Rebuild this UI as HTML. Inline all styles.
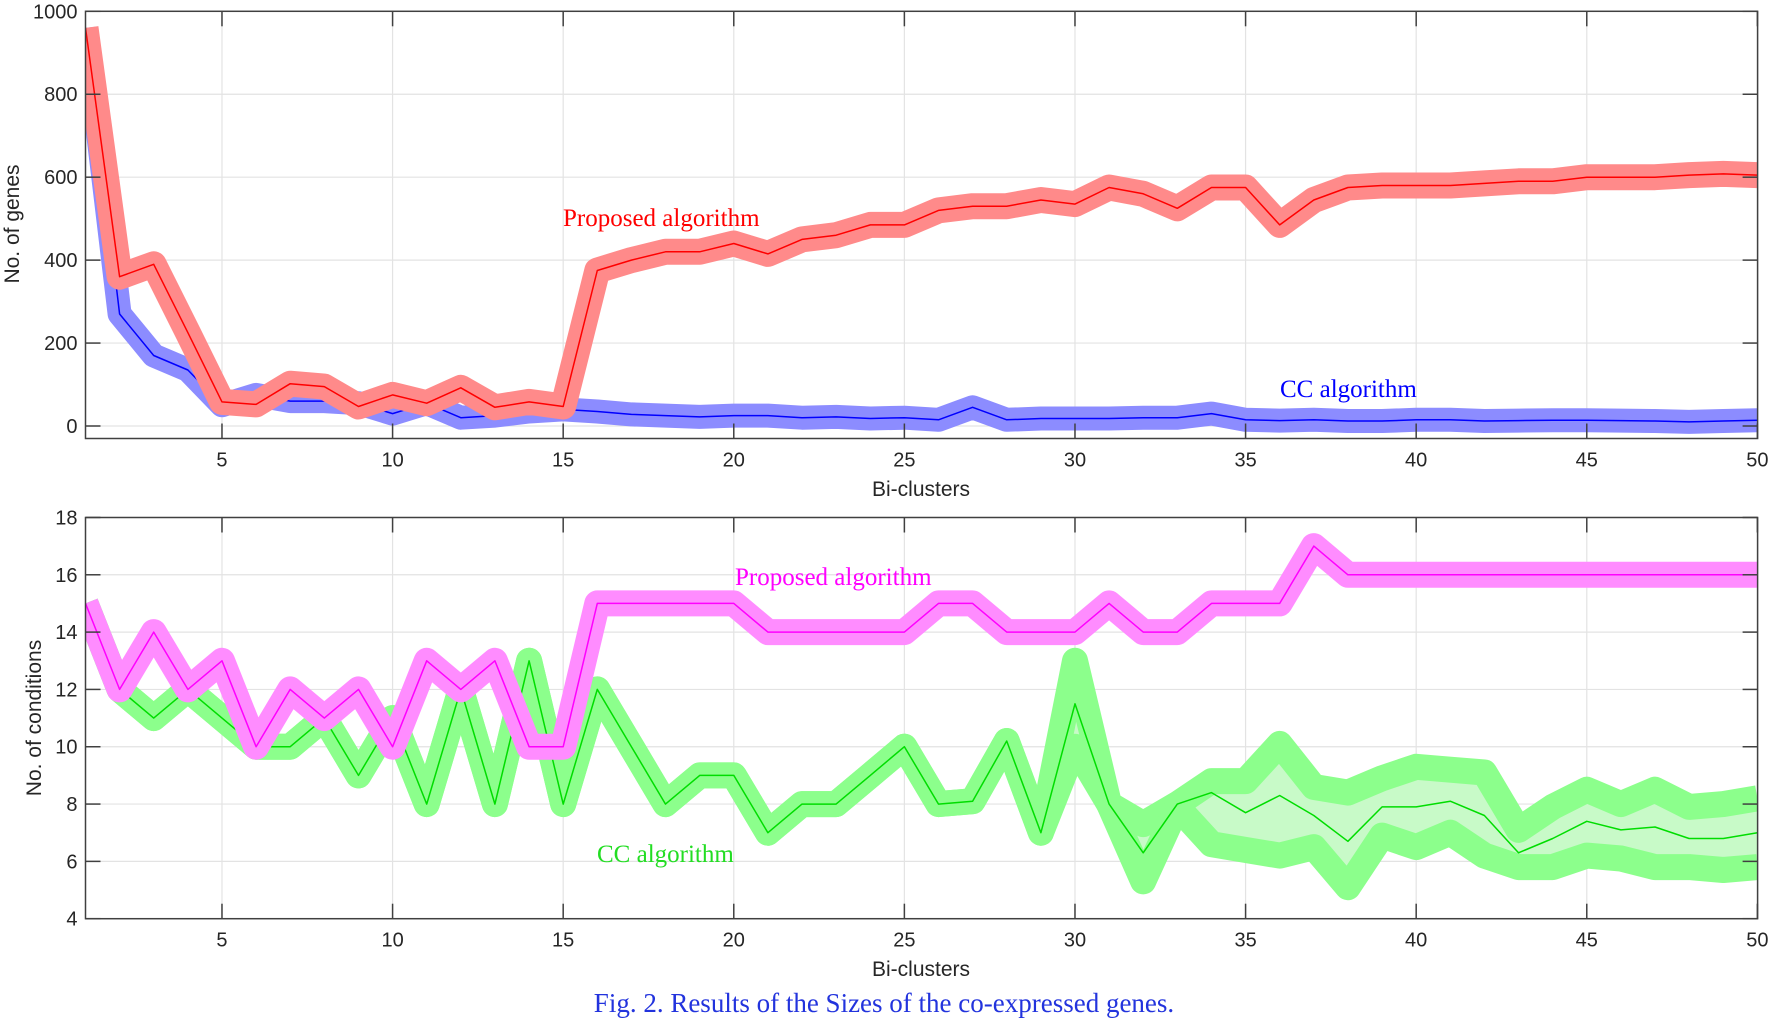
<!DOCTYPE html>
<html><head><meta charset="utf-8"><style>
body{margin:0;background:#fff;}
svg text{font-family:"Liberation Sans",sans-serif;}
.s{font-family:"Liberation Serif",serif !important;}
</style></head><body>
<svg id="s" width="1772" height="1021" xmlns="http://www.w3.org/2000/svg">
<defs>
<clipPath id="c1"><rect x="85.5" y="11.3" width="1672" height="427.2"/></clipPath>
<clipPath id="c2"><rect x="85.5" y="517.5" width="1672" height="401.2"/></clipPath>
</defs>
<g id="g"></g>
<text class="s" x="563" y="226" font-size="25" fill="#ff0000">Proposed algorithm</text>
<text class="s" x="1280" y="397" font-size="25" fill="#0000ff">CC algorithm</text>
<text class="s" x="735" y="585" font-size="25" fill="#ff00ff">Proposed algorithm</text>
<text class="s" x="597" y="862" font-size="25" fill="#22dd22">CC algorithm</text>
<text class="s" x="884" y="1012" font-size="27" fill="#2233dd" text-anchor="middle">Fig. 2. Results of the Sizes of the co-expressed genes.</text>
<text x="921" y="496" font-size="21" fill="#262626" text-anchor="middle">Bi-clusters</text>
<text x="921" y="976" font-size="21" fill="#262626" text-anchor="middle">Bi-clusters</text>
<text transform="translate(19,224) rotate(-90)" font-size="21" fill="#262626" text-anchor="middle">No. of genes</text>
<text transform="translate(41,718) rotate(-90)" font-size="21" fill="#262626" text-anchor="middle">No. of conditions</text>
</svg>
<script>
const NS="http://www.w3.org/2000/svg",g=document.getElementById('g');
function el(t,a,p){const e=document.createElementNS(NS,t);for(const k in a)e.setAttribute(k,a[k]);(p||g).appendChild(e);return e;}
function txt(x,y,s,anc){const e=el('text',{x:x,y:y,'font-size':20,fill:'#262626','text-anchor':anc||'middle'});e.textContent=s;}
const X=v=>85.5+(v-1)*34.12;
const Yt=v=>426-v*0.4147;
const Yb=v=>918.7-(v-4)*28.66;
const L=85.5,R=1757.6;
function axes(top,bot,yvals,Y){
 for(let v=5;v<=50;v+=5)el('line',{x1:X(v),x2:X(v),y1:top,y2:bot,stroke:'#e3e3e3','stroke-width':1.2});
 yvals.forEach(v=>el('line',{x1:L,x2:R,y1:Y(v),y2:Y(v),stroke:'#e3e3e3','stroke-width':1.2}));
}
function frame(top,bot,yvals,Y){
 el('rect',{x:L,y:top,width:R-L,height:bot-top,fill:'none',stroke:'#404040','stroke-width':1.5});
 for(let v=5;v<=50;v+=5){el('line',{x1:X(v),x2:X(v),y1:top,y2:top+15,stroke:'#404040','stroke-width':1.5});el('line',{x1:X(v),x2:X(v),y1:bot,y2:bot-15,stroke:'#404040','stroke-width':1.5});txt(X(v),bot+28,String(v));}
 yvals.forEach(v=>{el('line',{x1:L,x2:L+15,y1:Y(v),y2:Y(v),stroke:'#404040','stroke-width':1.5});el('line',{x1:R,x2:R-15,y1:Y(v),y2:Y(v),stroke:'#404040','stroke-width':1.5});txt(L-8,Y(v)+7,String(v),'end');});
}
function pts(a,Y){return a.map((v,i)=>X(i+1).toFixed(1)+','+Y(v).toFixed(1)).join(' ');}
function line(a,Y,col,w,clip){el('polyline',{points:pts(a,Y),fill:'none',stroke:col,'stroke-width':w,'stroke-linejoin':'round','stroke-linecap':'butt','clip-path':clip});}
axes(11.3,438.5,[0,200,400,600,800,1000],Yt);
axes(517.5,918.7,[4,6,8,10,12,14,16,18],Yb);
const red=[960,360,390,225,58,52,102,95,47,75,55,92,45,58,47,375,400,420,420,440,415,450,460,485,485,520,530,530,545,535,575,560,525,575,575,485,545,575,580,580,580,585,590,590,600,600,600,605,608,605];
const blue=[960,270,170,135,50,75,60,60,55,30,55,20,25,35,40,35,28,25,22,25,25,20,22,18,20,15,45,15,18,18,18,20,20,30,15,13,15,12,12,15,15,12,13,14,14,13,12,10,12,14];
const mag=[15,12,14,12,13,10,12,11,12,10,13,12,13,10,10,15,15,15,15,15,14,14,14,14,14,15,15,14,14,14,15,14,14,15,15,15,17,16,16,16,16,16,16,16,16,16,16,16,16,16];
const gc=[15,12,11,12,11,10,10,11,9,11,8,12,8,13,8,12,10,8,9,9,7,8,8,9,10,8,8.1,10.2,7,11.5,8,6.3,8,8.4,7.7,8.3,7.6,6.7,7.9,7.9,8.1,7.6,6.3,6.8,7.4,7.1,7.2,6.8,6.8,7.0];
const up=gc.slice(),lo=gc.slice();
const U={30:13,31:8,32:7.3,33:8,34:8.8,35:8.8,36:10.1,37:8.6,38:8.4,39:8.9,40:9.3,41:9.2,42:9.1,43:7.1,44:7.9,45:8.5,46:8,47:8.5,48:7.9,49:8,50:8.2};
const Lo={30:10,31:8,32:5.3,33:7.9,34:6.6,35:6.4,36:6.2,37:6.5,38:5.1,39:6.9,40:6.5,41:7,42:6.2,43:5.8,44:5.8,45:6.2,46:6.1,47:5.8,48:5.8,49:5.7,50:5.8};
for(const k in U){up[k-1]=U[k];lo[k-1]=Lo[k];}
line(blue,Yt,'#8c8cff',24,'url(#c1)');line(blue,Yt,'#0000ff',1.5,'url(#c1)');
line(red,Yt,'#ff8a8a',26,'url(#c1)');line(red,Yt,'#ff0000',1.5,'url(#c1)');
let poly=up.map((v,i)=>X(i+1)+','+Yb(v)).concat(lo.map((v,i)=>X(i+1)+','+Yb(v)).reverse()).join(' ');
el('polygon',{points:poly,fill:'#c8fac8','clip-path':'url(#c2)'});
line(up,Yb,'#8cff8c',26,'url(#c2)');line(lo,Yb,'#8cff8c',26,'url(#c2)');
line(gc,Yb,'#00dd00',1.5,'url(#c2)');
line(mag,Yb,'#ff8cff',26,'url(#c2)');line(mag,Yb,'#ff00ff',1.5,'url(#c2)');
frame(11.3,438.5,[0,200,400,600,800,1000],Yt);
frame(517.5,918.7,[4,6,8,10,12,14,16,18],Yb);
</script>
</body></html>
